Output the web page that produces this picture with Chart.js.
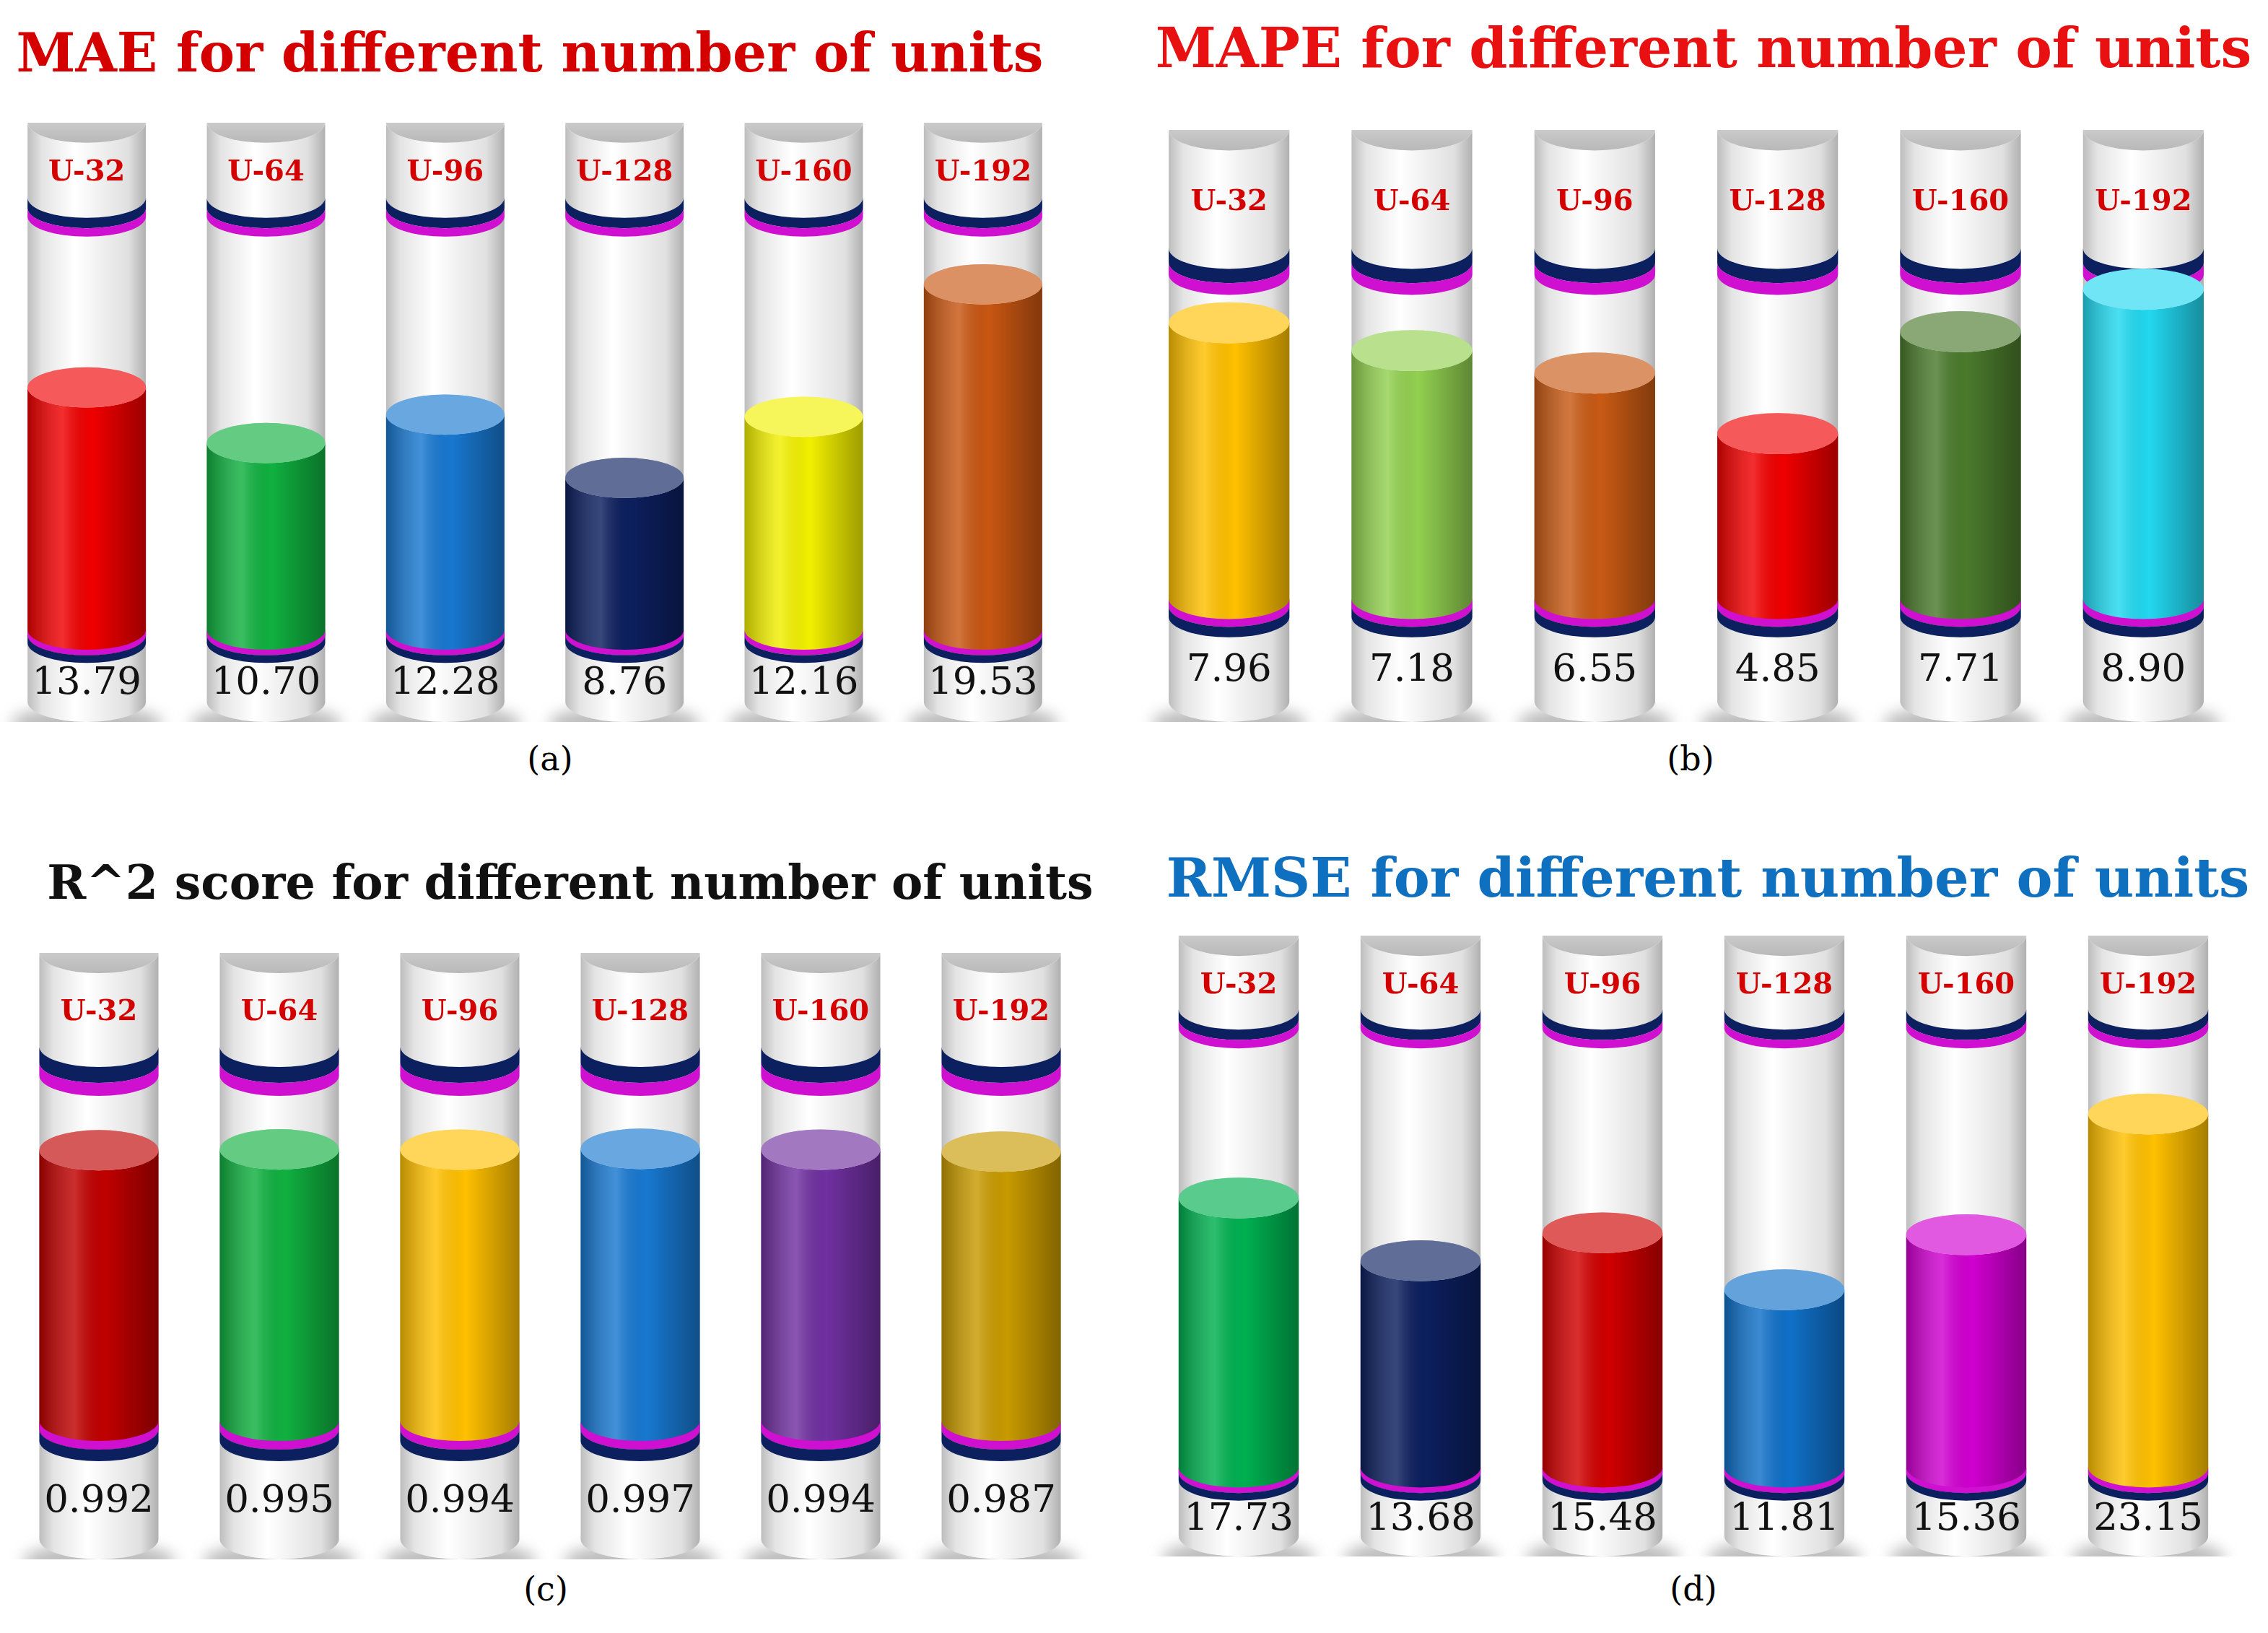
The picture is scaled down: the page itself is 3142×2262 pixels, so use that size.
<!DOCTYPE html>
<html>
<head>
<meta charset="utf-8">
<script src="https://cdn.jsdelivr.net/npm/chart.js@4"></script>
<style>
  body { margin:0; background:#fff; width:3142px; height:2262px; position:relative; overflow:hidden; }
  .ttl { position:absolute; font-family:"DejaVu Serif", serif; font-weight:bold; white-space:nowrap; transform:translateX(-50%); }
  .cap { position:absolute; font-family:"DejaVu Serif", serif; font-size:46px; color:#000; transform:translateX(-50%); }
  canvas { position:absolute; }
</style>
</head>
<body>
<div class="ttl" style="left:734px;top:30px;font-size:74px;color:#d40000;">MAE for different number of units</div>
<div class="ttl" style="left:2360px;top:22px;font-size:76px;color:#e81010;">MAPE for different number of units</div>
<div class="ttl" style="left:790px;top:1184px;font-size:65px;color:#111;">R^2 score for different number of units</div>
<div class="ttl" style="left:2366px;top:1172px;font-size:75px;color:#1070c0;">RMSE for different number of units</div>
<div class="cap" style="left:762px;top:1024px;">(a)</div>
<div class="cap" style="left:2342px;top:1024px;">(b)</div>
<div class="cap" style="left:756px;top:2174px;">(c)</div>
<div class="cap" style="left:2346px;top:2174px;">(d)</div>

<canvas id="ca"></canvas>
<canvas id="cb"></canvas>
<canvas id="cc"></canvas>
<canvas id="cd"></canvas>

<script>
const units = ["U-32", "U-64", "U-96", "U-128", "U-160", "U-192"];

const maeValues = [13.79, 10.70, 12.28, 8.76, 12.16, 19.53];
const mapeValues = [7.96, 7.18, 6.55, 4.85, 7.71, 8.90];
const r2Values = [0.992, 0.995, 0.994, 0.997, 0.994, 0.987];
const rmseValues = [17.73, 13.68, 15.48, 11.81, 15.36, 23.15];

const maeLabels = ["13.79", "10.70", "12.28", "8.76", "12.16", "19.53"];
const mapeLabels = ["7.96", "7.18", "6.55", "4.85", "7.71", "8.90"];
const r2Labels = ["0.992", "0.995", "0.994", "0.997", "0.994", "0.987"];
const rmseLabels = ["17.73", "13.68", "15.48", "11.81", "15.36", "23.15"];

const maeColors = ["#f00000", "#10b040", "#1878d0", "#0c1f5e", "#f2f000", "#c85612"];
const mapeColors = ["#ffc000", "#92d050", "#c85a14", "#f00000", "#4a7a2c", "#22d8f0"];
const r2Colors = ["#c00000", "#10b040", "#ffc000", "#1878d0", "#7030a0", "#c89a00"];
const rmseColors = ["#00b050", "#0c1f5e", "#d00000", "#1070c8", "#d000d0", "#ffc000"];

// front strip of a cylinder between y0 and y1
function strip(ctx, x, y0, y1, w, ry) {
  ctx.beginPath();
  ctx.ellipse(x, y0, w/2, ry, 0, 0, Math.PI);
  ctx.lineTo(x - w/2, y1);
  ctx.ellipse(x, y1, w/2, ry, 0, Math.PI, 0, true);
  ctx.closePath();
}
function shadeOverlay(ctx, x, w) {
  const g = ctx.createLinearGradient(x - w/2, 0, x + w/2, 0);
  g.addColorStop(0, "rgba(0,0,0,0.28)");
  g.addColorStop(0.3, "rgba(255,255,255,0.18)");
  g.addColorStop(0.55, "rgba(0,0,0,0)");
  g.addColorStop(1, "rgba(0,0,0,0.35)");
  return g;
}
function glass(ctx, x, w) {
  const g = ctx.createLinearGradient(x - w/2, 0, x + w/2, 0);
  g.addColorStop(0, "#bdbdbd");
  g.addColorStop(0.12, "#e4e4e4");
  g.addColorStop(0.4, "#ffffff");
  g.addColorStop(0.85, "#e0e0e0");
  g.addColorStop(1, "#b0b0b0");
  return g;
}

const cylPlugin = {
  id: "cyl",
  afterDraw(chart) {
    const o = chart.options.plugins.cyl;
    const ctx = chart.ctx;
    const area = chart.chartArea;
    const meta = chart.getDatasetMeta(0);
    const T = area.top - o.padTop, B = area.bottom + o.padBottom;
    meta.data.forEach((bar, i) => {
      const x = bar.x, w = bar.width, ry = w * 0.17;
      const base = bar.base, top = bar.y;
      ctx.save();
      // shadow
      ctx.fillStyle = "rgba(110,110,110,0.45)";
      ctx.filter = "blur(10px)";
      ctx.beginPath();
      ctx.ellipse(x, B + 2, w * 0.64, ry * 0.9, 0, 0, Math.PI * 2);
      ctx.fill();
      ctx.filter = "none";
      // tube body
      ctx.fillStyle = glass(ctx, x, w);
      strip(ctx, x, T, B - ry, w, ry);
      ctx.fill();
      // upper cap
      const bandTop = area.top - o.bandH;
      const cg = ctx.createLinearGradient(0, T - ry, 0, T + ry);
      cg.addColorStop(0, "#dcdcdc");
      cg.addColorStop(1, "#b8b8b8");
      ctx.fillStyle = cg;
      ctx.beginPath();
      ctx.ellipse(x, T, w/2, ry, 0, 0, Math.PI * 2);
      ctx.fill();
      // top bands
      ctx.fillStyle = "#0c1f5e";
      strip(ctx, x, bandTop, bandTop + o.bandH * 0.55, w, ry);
      ctx.fill();
      ctx.fillStyle = "#d010d0";
      strip(ctx, x, bandTop + o.bandH * 0.55, area.top, w, ry);
      ctx.fill();
      // liquid
      ctx.fillStyle = o.colors[i];
      strip(ctx, x, top, base, w, ry);
      ctx.fill();
      ctx.fillStyle = shadeOverlay(ctx, x, w);
      strip(ctx, x, top, base, w, ry);
      ctx.fill();
      ctx.fillStyle = o.colors[i];
      ctx.beginPath();
      ctx.ellipse(x, top, w/2, ry, 0, 0, Math.PI * 2);
      ctx.fill();
      ctx.fillStyle = "rgba(255,255,255,0.35)";
      ctx.fill();
      // bottom bands
      ctx.fillStyle = "#d010d0";
      strip(ctx, x, base - o.bandH * 0.3, base, w, ry);
      ctx.fill();
      ctx.fillStyle = "#0c1f5e";
      strip(ctx, x, base, base + o.bandH * 0.4, w, ry);
      ctx.fill();
      // texts
      ctx.textAlign = "center";
      ctx.textBaseline = "middle";
      ctx.fillStyle = "#d40000";
      ctx.font = "bold 40px 'DejaVu Serif', serif";
      ctx.fillText(units[i], x, (T + ry + bandTop) / 2 + 4);
      ctx.fillStyle = "#111";
      ctx.font = "53px 'DejaVu Serif', serif";
      ctx.fillText(o.texts[i], x, (base + o.bandH * 0.4 + B) / 2 + 2);
      ctx.restore();
    });
  }
};

function makeChart(id, left, top, width, height, values, max, colors, texts, padTop, padBottom, bandH) {
  const cv = document.getElementById(id);
  cv.style.left = left + "px";
  cv.style.top = top + "px";
  cv.style.width = width + "px";
  cv.style.height = height + "px";
  cv.width = width; cv.height = height;
  return new Chart(cv, {
    type: "bar",
    data: { labels: units, datasets: [{ data: values, backgroundColor: "rgba(0,0,0,0)", barPercentage: 0.66, categoryPercentage: 1 }] },
    options: {
      responsive: false, animation: false,
      layout: { padding: { top: padTop, bottom: padBottom, left: 0, right: 0 } },
      scales: { x: { display: false }, y: { display: false, min: 0, max: max } },
      plugins: { legend: { display: false }, tooltip: { enabled: false },
        cyl: { colors: colors, texts: texts, padTop: padTop, padBottom: padBottom, bandH: bandH } }
    },
    plugins: [cylPlugin]
  });
}

makeChart("ca", -4, 170, 1490, 830, maeValues, 23.3, maeColors, maeLabels, 130, 120, 26);
makeChart("cb", 1576, 180, 1520, 820, mapeValues, 9.32, mapeColors, mapeLabels, 200, 160, 36);
makeChart("cc", 12, 1320, 1500, 840, r2Values, 1.257, r2Colors, r2Labels, 170, 180, 40);
makeChart("cd", 1590, 1296, 1512, 860, rmseValues, 28.7, rmseColors, rmseLabels, 128, 116, 26);
</script>
</body>
</html>
